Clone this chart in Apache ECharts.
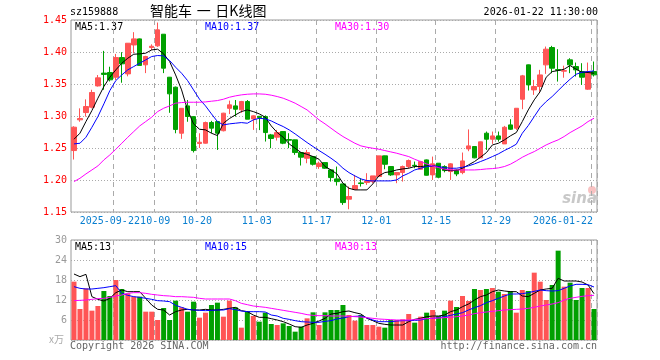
<!DOCTYPE html>
<html><head><meta charset="utf-8">
<script src="https://cdn.jsdelivr.net/npm/echarts@6/dist/echarts.min.js"></script>
<style>html,body{margin:0;padding:0;background:#fff}#c{width:660px;height:360px}</style>
</head><body><div id="c"></div>
<script>
const dates = ['2025-09-11','2025-09-12','2025-09-15','2025-09-16','2025-09-17','2025-09-18','2025-09-19','2025-09-22','2025-09-23','2025-09-24','2025-09-25','2025-09-26','2025-09-29','2025-09-30',
'2025-10-09','2025-10-10','2025-10-13','2025-10-14','2025-10-15','2025-10-16','2025-10-17','2025-10-20','2025-10-21','2025-10-22','2025-10-23','2025-10-24','2025-10-27','2025-10-28','2025-10-29','2025-10-30','2025-10-31',
'2025-11-03','2025-11-04','2025-11-05','2025-11-06','2025-11-07','2025-11-10','2025-11-11','2025-11-12','2025-11-13','2025-11-14','2025-11-17','2025-11-18','2025-11-19','2025-11-20','2025-11-21','2025-11-24','2025-11-25','2025-11-26','2025-11-27','2025-11-28',
'2025-12-01','2025-12-02','2025-12-03','2025-12-04','2025-12-05','2025-12-08','2025-12-09','2025-12-10','2025-12-11','2025-12-12','2025-12-15','2025-12-16','2025-12-17','2025-12-18','2025-12-19','2025-12-22','2025-12-23','2025-12-24','2025-12-25','2025-12-26','2025-12-29','2025-12-30','2025-12-31',
'2026-01-05','2026-01-06','2026-01-07','2026-01-08','2026-01-09','2026-01-12','2026-01-13','2026-01-14','2026-01-15','2026-01-16','2026-01-19','2026-01-20','2026-01-21','2026-01-22'];

const openP = [1.246,1.294,1.3054,1.3137,1.347,1.367,1.368,1.3606,1.3913,1.3658,1.411,1.4205,1.380,1.407,1.4096,1.4278,1.3606,1.345,1.2731,1.3158,
1.299,1.257,1.2575,1.2898,1.2913,1.277,1.312,1.3158,1.3096,1.3226,1.2955,1.2995,1.2991,1.2705,1.2669,1.2757,1.2632,1.2627,1.2429,1.2340,
1.2366,1.2210,1.2272,1.2158,1.2017,1.1939,1.1700,1.1855,1.1955,1.1960,1.1975,1.2054,1.2377,1.2210,1.2080,1.2116,1.2210,1.2230,1.2168,1.2314,
1.2080,1.2262,1.2210,1.2132,1.2158,1.2116,1.2486,1.2523,1.2346,1.2731,1.2637,1.2689,1.2564,1.2861,1.2809,1.3262,1.3799,1.3408,1.3460,1.3799,
1.4070,1.3725,1.3700,1.3877,1.3773,1.3695,1.3419,1.3695];
const highP = [1.284,1.312,1.326,1.341,1.364,1.4018,1.377,1.397,1.3997,1.414,1.431,1.421,1.394,1.412,1.446,1.428,1.361,1.346,1.312,1.325,
1.300,1.273,1.2913,1.2924,1.292,1.305,1.324,1.325,1.3236,1.325,1.3010,1.300,1.301,1.272,1.2783,1.276,1.2731,1.263,1.243,1.2470,
1.2370,1.2288,1.2275,1.216,1.2210,1.194,1.1897,1.2080,1.2028,1.2106,1.2064,1.2377,1.2380,1.2215,1.2125,1.2226,1.2320,1.2288,1.2300,1.2320,
1.2366,1.2265,1.2230,1.2262,1.2170,1.2429,1.2790,1.2530,1.2600,1.2757,1.2757,1.2757,1.2845,1.2950,1.3121,1.3642,1.3803,1.3564,1.3721,1.4085,
1.4096,1.4044,1.3786,1.3903,1.3835,1.3825,1.3835,1.3851];
const lowP = [1.232,1.291,1.299,1.312,1.346,1.341,1.354,1.356,1.352,1.362,1.398,1.379,1.367,1.403,1.408,1.367,1.305,1.273,1.2643,1.291,
1.243,1.250,1.257,1.273,1.247,1.276,1.303,1.299,1.305,1.295,1.2783,1.278,1.2601,1.2497,1.2617,1.256,1.2497,1.2393,1.2226,1.2262,
1.2226,1.2174,1.2174,1.1975,1.1913,1.1611,1.1543,1.1845,1.1897,1.1923,1.1949,1.2054,1.2168,1.2064,1.1950,1.1975,1.2180,1.2184,1.2160,1.2070,
1.2001,1.2027,1.2120,1.2001,1.2060,1.2090,1.2450,1.2340,1.2346,1.2470,1.2564,1.2600,1.2564,1.2783,1.2783,1.3106,1.3398,1.3330,1.3366,1.3658,
1.3668,1.3538,1.3598,1.3669,1.3617,1.3486,1.3408,1.3617];
const closeP = [1.2825,1.296,1.3148,1.3367,1.3596,1.365,1.3565,1.3913,1.3815,1.4137,1.4205,1.379,1.393,1.409,1.4346,1.3747,1.3346,1.279,1.312,1.2992,
1.246,1.259,1.2898,1.281,1.2731,1.3044,1.3174,1.3106,1.3226,1.2950,1.3002,1.2975,1.2741,1.2648,1.2741,1.2575,1.2622,1.2429,1.2356,1.2429,
1.2246,1.2262,1.2184,1.2038,1.1975,1.1647,1.1742,1.1913,1.1945,1.1986,1.2064,1.2377,1.2246,1.2080,1.2116,1.2210,1.2304,1.2220,1.2288,1.2074,
1.2252,1.2043,1.2147,1.2252,1.2095,1.2298,1.2533,1.2346,1.2596,1.2637,1.2689,1.2637,1.2824,1.2793,1.3121,1.3627,1.3486,1.3460,1.3642,1.4044,
1.3747,1.3715,1.3710,1.3799,1.3721,1.3606,1.3695,1.3643];

const ma5 = [1.2637,1.2731,1.2913,1.3085,1.3278,1.3460,1.3606,1.3721,1.3825,1.3903,1.3965,1.3971,1.3981,1.4033,1.4044,1.3971,1.3851,1.3642,1.3408,1.3095,
1.2877,1.2793,1.2783,1.2731,1.2694,1.2887,1.2960,1.3017,1.3069,1.3095,1.3069,1.3033,1.2981,1.2845,1.2741,1.2668,1.2564,1.2496,1.2428,1.2402,
1.2366,1.2324,1.2210,1.2157,1.2095,1.1949,1.1871,1.1845,1.1845,1.1845,1.1939,1.2064,1.2116,1.2131,1.2157,1.2173,1.2184,1.2210,1.2210,1.2220,
1.2220,1.2210,1.2157,1.2147,1.2147,1.2184,1.2236,1.2288,1.2355,1.2428,1.2548,1.2574,1.2626,1.2689,1.2741,1.2913,1.3095,1.3252,1.3382,1.3606,
1.3694,1.3710,1.3731,1.3788,1.3731,1.3684,1.3679,1.3668];
const ma10 = [1.2564,1.2574,1.2668,1.2824,1.2991,1.3189,1.3397,1.3554,1.3642,1.3721,1.3773,1.3825,1.3877,1.3929,1.3945,1.3939,1.3866,1.3762,1.3668,1.3554,
1.3408,1.3262,1.3158,1.3033,1.2913,1.2861,1.2877,1.2887,1.2897,1.2887,1.2939,1.2965,1.2955,1.2923,1.2877,1.2835,1.2783,1.2720,1.2652,1.2585,
1.2522,1.2460,1.2402,1.2340,1.2272,1.2184,1.2116,1.2064,1.2017,1.1991,1.1986,1.1986,1.1986,1.1986,1.2001,1.2064,1.2105,1.2157,1.2184,1.2210,
1.2220,1.2210,1.2194,1.2184,1.2184,1.2199,1.2220,1.2251,1.2288,1.2324,1.2366,1.2408,1.2460,1.2507,1.2559,1.2730,1.2850,1.2991,1.3131,1.3226,
1.3304,1.3397,1.3489,1.3575,1.3652,1.3684,1.3694,1.3705];
const ma30 = [1.1975,1.2027,1.2095,1.2157,1.2220,1.2314,1.2392,1.2481,1.2574,1.2668,1.2757,1.2845,1.2913,1.2981,1.3069,1.3121,1.3158,1.3200,1.3210,1.3215,
1.3215,1.3215,1.3220,1.3231,1.3241,1.3262,1.3293,1.3314,1.3330,1.3340,1.3345,1.3345,1.3340,1.3325,1.3304,1.3278,1.3241,1.3200,1.3148,1.3095,
1.3017,1.2939,1.2877,1.2809,1.2741,1.2679,1.2626,1.2574,1.2533,1.2512,1.2496,1.2481,1.2460,1.2439,1.2418,1.2392,1.2366,1.2324,1.2288,1.2251,
1.2220,1.2194,1.2168,1.2157,1.2157,1.2157,1.2157,1.2157,1.2163,1.2173,1.2178,1.2189,1.2210,1.2246,1.2298,1.2355,1.2402,1.2444,1.2496,1.2548,
1.2590,1.2627,1.2679,1.2741,1.2793,1.2845,1.2913,1.2965];

const volume = [17.5,9.3,15.5,8.8,10.2,14.7,13.2,18.0,15.3,14.0,13.0,13.0,8.5,8.5,6.0,9.6,6.0,11.8,9.8,8.5,
11.5,6.7,8.2,10.5,11.2,7.0,11.8,9.8,3.7,8.7,7.2,5.5,8.2,4.8,4.5,5.0,4.2,2.5,4.0,6.5,
8.3,4.5,8.3,9.0,9.0,10.5,7.5,5.8,7.5,4.5,4.5,4.0,3.7,6.0,6.0,6.2,7.8,5.2,7.0,8.2,
9.0,7.2,8.8,11.8,9.9,13.2,11.7,15.3,15.0,15.3,15.6,14.5,13.8,14.7,8.2,15.0,14.7,20.2,17.5,12.0,
16.5,26.8,16.0,17.2,12.0,15.6,15.6,9.3];
const volMa5 = [19.8,19.0,19.7,13.0,12.2,11.7,12.5,14.2,15.0,14.5,14.5,14.5,12.5,10.5,9.2,9.0,7.5,8.5,9.0,9.2,
9.0,9.0,9.2,9.0,9.0,9.2,9.5,9.8,8.8,8.5,7.5,6.8,6.8,6.4,6.0,5.5,4.8,4.0,3.8,4.5,
5.0,5.7,6.5,7.8,8.0,8.5,8.7,8.2,7.8,6.5,5.8,5.0,4.7,4.5,4.5,4.5,5.5,6.2,6.5,7.0,
7.2,7.2,7.5,8.5,9.0,10.0,10.8,12.0,13.0,13.5,14.5,15.0,14.7,14.5,14.5,13.2,13.0,14.0,15.0,15.3,
15.5,18.5,17.7,17.7,17.7,17.4,16.5,13.9];
const volMa10 = [16.0,15.5,15.3,15.3,15.5,15.7,16.0,16.3,14.0,13.4,13.0,12.8,12.5,12.2,11.8,11.7,11.5,10.4,9.8,9.2,
9.0,8.9,8.8,8.9,9.0,9.0,9.4,9.1,8.7,8.5,8.5,8.5,8.4,7.5,7.2,6.5,6.2,5.8,5.5,5.4,
5.3,5.3,5.6,5.8,6.3,6.6,7.0,7.1,7.2,6.7,6.0,5.5,5.5,5.5,5.7,5.8,5.8,5.9,6.0,6.4,
6.5,6.7,7.0,7.4,7.8,8.2,9.0,9.7,10.3,11.2,11.8,12.5,13.2,13.8,13.8,13.9,14.2,14.6,15.0,14.8,
14.7,14.8,15.5,16.2,16.7,16.7,16.6,15.9];
const volMa30 = [11.8,11.9,12.0,12.2,12.4,12.5,12.8,13.2,13.5,14.0,14.2,14.2,14.0,13.7,13.5,13.3,13.2,13.0,13.0,12.9,
12.8,12.5,12.3,12.3,12.3,12.3,12.3,11.8,11.0,10.6,10.2,10.0,9.8,9.5,9.2,8.9,8.6,8.3,8.0,7.6,
7.4,7.3,7.3,7.2,7.2,7.2,7.1,7.0,6.9,6.7,6.5,6.3,6.2,6.1,6.0,6.0,6.0,6.1,6.3,6.4,
6.5,6.6,6.7,6.8,7.0,7.2,7.5,7.9,8.2,8.4,8.6,8.8,9.0,9.1,9.2,9.3,9.5,9.8,10.2,10.5,
10.8,11.2,12.0,12.5,12.8,13.1,13.3,13.4];

const labelDates = ['2025-09-22','2025-10-09','2025-10-20','2025-11-03','2025-11-17','2025-12-01','2025-12-15','2025-12-29','2026-01-22'];
const labelTexts = ['2025-09-22','10-09','10-20','11-03','11-17','12-01','12-15','12-29','2026-01-22'];

const UP = '#ff5555', DOWN = '#00a000';
const MONO = '"DejaVu Sans Mono", "Liberation Mono", monospace';
const kData = dates.map((d, i) => [openP[i], closeP[i], lowP[i], highP[i]]);
const volData = volume.map((v, i) => ({ value: v, itemStyle: { color: closeP[i] >= openP[i] ? UP : DOWN } }));
const isLabel = (idx, val) => labelDates.indexOf(val) >= 0;
const last = a => a[a.length - 1];

const chart = echarts.init(document.getElementById('c'), null, { renderer: 'canvas' });
const dashV = { show: true, interval: isLabel, lineStyle: { color: '#aaa', type: [5, 4], width: 1 } };
const dotH = { show: true, lineStyle: { color: '#aaa', type: [1, 2], width: 1 } };
const LBL = '#0a7fd0';

chart.setOption({
  animation: false,
  backgroundColor: '#fff',
  grid: [
    { left: 71, top: 20, width: 526, height: 192, show: true, borderColor: '#999', borderWidth: 1, backgroundColor: 'transparent' },
    { left: 71, top: 240, width: 526, height: 100, show: true, borderColor: '#999', borderWidth: 1, backgroundColor: 'transparent' }
  ],
  xAxis: [
    { type: 'category', gridIndex: 0, data: dates, boundaryGap: true,
      axisLine: { show: false }, axisTick: { show: false },
      axisLabel: { show: true, interval: (idx, val) => isLabel(idx, val) && val !== labelDates[0], hideOverlap: false,
        margin: 4, color: LBL, fontFamily: MONO, fontSize: 10,
        formatter: function (v) {
          const k = labelDates.indexOf(v);
          const t = labelTexts[k];
          if (k === labelDates.length - 1) return '{l|' + t + '}';
          return '{m|' + t + '}';
        },
        rich: {
          m: { color: LBL, fontFamily: MONO, fontSize: 10, padding: [0, 5, 0, 0] },
          l: { color: LBL, fontFamily: MONO, fontSize: 10, padding: [0, 62, 0, 0] }
        }
      },
      splitLine: dashV },
    { type: 'category', gridIndex: 1, data: dates, boundaryGap: true,
      axisLine: { show: false }, axisTick: { show: false }, axisLabel: { show: false },
      splitLine: dashV }
  ],
  yAxis: [
    { type: 'value', gridIndex: 0, min: 1.15, max: 1.45, interval: 0.05,
      axisLine: { show: false }, axisTick: { show: false },
      axisLabel: { color: '#ff0000', fontFamily: MONO, fontSize: 10, margin: 4, formatter: v => v.toFixed(2) },
      splitLine: dotH },
    { type: 'value', gridIndex: 1, min: 0, max: 30, interval: 6,
      axisLine: { show: false }, axisTick: { show: false },
      axisLabel: { color: '#999', fontFamily: MONO, fontSize: 10, margin: 4, formatter: v => v === 0 ? '' : String(v) },
      splitLine: dotH }
  ],
  series: [
    { type: 'candlestick', xAxisIndex: 0, yAxisIndex: 0, data: kData, barWidth: 5,
      itemStyle: { color: UP, color0: DOWN, borderColor: UP, borderColor0: DOWN, borderWidth: 1 } },
    { type: 'line', xAxisIndex: 0, yAxisIndex: 0, data: ma5, showSymbol: false, lineStyle: { color: '#000', width: 1 } },
    { type: 'line', xAxisIndex: 0, yAxisIndex: 0, data: ma10, showSymbol: false, lineStyle: { color: '#0000ff', width: 1 } },
    { type: 'line', xAxisIndex: 0, yAxisIndex: 0, data: ma30, showSymbol: false, lineStyle: { color: '#ff00ff', width: 1 } },
    { type: 'bar', xAxisIndex: 1, yAxisIndex: 1, data: volData, barWidth: 5 },
    { type: 'line', xAxisIndex: 1, yAxisIndex: 1, data: volMa5, showSymbol: false, lineStyle: { color: '#000', width: 1 } },
    { type: 'line', xAxisIndex: 1, yAxisIndex: 1, data: volMa10, showSymbol: false, lineStyle: { color: '#0000ff', width: 1 } },
    { type: 'line', xAxisIndex: 1, yAxisIndex: 1, data: volMa30, showSymbol: false, lineStyle: { color: '#ff00ff', width: 1 } }
  ],
  graphic: [
    { type: 'text', left: 70, top: 7, style: { text: 'sz159888', fill: '#000', font: '10px ' + MONO } },
    { type: 'text', left: 150, top: 4, style: { text: '智能车\u2004一\u2004日K线图', fill: '#000', font: '14px "Noto Sans CJK SC"' } },
    { type: 'text', right: 62, top: 7, style: { text: '2026-01-22 11:30:00', fill: '#000', font: '10px ' + MONO } },
    { type: 'text', left: 75, top: 22, style: { text: 'MA5:' + last(ma5).toFixed(2), fill: '#000', font: '10px ' + MONO } },
    { type: 'text', left: 205, top: 22, style: { text: 'MA10:' + last(ma10).toFixed(2), fill: '#0000ff', font: '10px ' + MONO } },
    { type: 'text', left: 335, top: 22, style: { text: 'MA30:' + last(ma30).toFixed(2), fill: '#ff00ff', font: '10px ' + MONO } },
    { type: 'text', left: 75, top: 242, style: { text: 'MA5:' + Math.floor(last(volMa5)), fill: '#000', font: '10px ' + MONO } },
    { type: 'text', left: 205, top: 242, style: { text: 'MA10:' + Math.floor(last(volMa10)), fill: '#0000ff', font: '10px ' + MONO } },
    { type: 'text', left: 335, top: 242, style: { text: 'MA30:' + Math.floor(last(volMa30)), fill: '#ff00ff', font: '10px ' + MONO } },
    { type: 'text', left: 49, top: 334, style: { text: 'x万', fill: '#aaa', font: '10px "Noto Sans CJK SC"' } },
    { type: 'text', left: 70, top: 341, style: { text: 'Copyright 2026 SINA.COM', fill: '#666', font: '10px ' + MONO } },
    { type: 'text', right: 63, top: 341, style: { text: 'http://finance.sina.com.cn', fill: '#666', font: '10px ' + MONO } },
    { type: 'circle', shape: { cx: 592, cy: 190, r: 4 }, style: { fill: 'rgba(240,120,120,0.45)' }, z: 0 },
    { type: 'text', right: 63, top: 192, style: { text: 'sina', fill: '#c8c8c8', font: 'italic bold 15px "DejaVu Sans"' }, z: 0 }
  ]
});

// first date label: placed at the axis position of its category (would otherwise collide with the next label)
const fx = chart.convertToPixel({ xAxisIndex: 0 }, labelDates[0]);
const fy = chart.convertToPixel({ yAxisIndex: 0 }, 1.15);
chart.setOption({
  graphic: [{ id: 'firstDate', type: 'text', x: fx - 6, y: fy + 4,
    style: { text: labelTexts[0], fill: LBL, font: '10px ' + MONO, textAlign: 'center', textVerticalAlign: 'top' } }]
});
</script></body></html>
